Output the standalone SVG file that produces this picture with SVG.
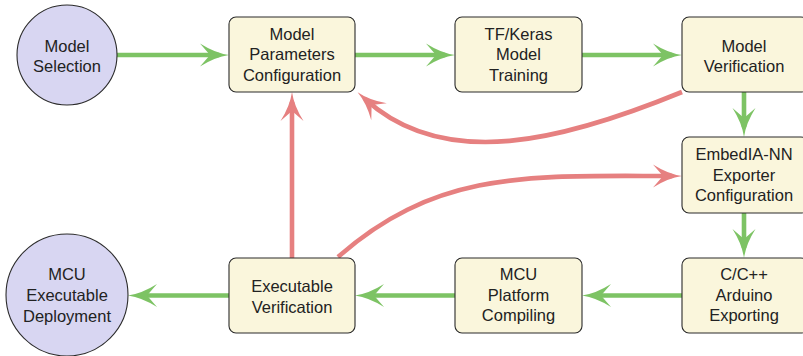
<svg xmlns="http://www.w3.org/2000/svg" width="803" height="356" viewBox="0 0 803 356">
  <style>
    .box { fill: #faf6dc; stroke: #2b2b2b; stroke-width: 1.1; }
    .term { fill: #d8d6f2; stroke: #2b2b2b; stroke-width: 1.1; }
    text { font-family: "Liberation Sans", Arial, sans-serif; font-size: 16.5px; fill: #222; text-anchor: middle; }
    .flow { fill: none; stroke: #7dc364; stroke-width: 4.6; }
    .back { fill: none; stroke: #e68080; stroke-width: 4.6; }
  </style>
  <defs>
    <marker id="arrGreen" viewBox="-30 -12 31 24" refX="-10" refY="0" markerWidth="31" markerHeight="24" markerUnits="userSpaceOnUse" orient="auto">
      <path d="M0,0 Q-14,-2 -29,-11.5 L-19,0 L-29,11.5 Q-14,2 0,0 Z" fill="#7dc364"/>
    </marker>
    <marker id="arrRed" viewBox="-30 -12 31 24" refX="-10" refY="0" markerWidth="31" markerHeight="24" markerUnits="userSpaceOnUse" orient="auto">
      <path d="M0,0 Q-14,-2 -29,-11.5 L-19,0 L-29,11.5 Q-14,2 0,0 Z" fill="#e68080"/>
    </marker>
  </defs>

  <g id="connectors">
    <path class="flow" d="M117,55 L219,55" marker-end="url(#arrGreen)"/>
    <path class="flow" d="M355,55 L445,55" marker-end="url(#arrGreen)"/>
    <path class="flow" d="M582,55 L672,55" marker-end="url(#arrGreen)"/>
    <path class="flow" d="M744,92 L744,127" marker-end="url(#arrGreen)"/>
    <path class="flow" d="M744,213 L744,248" marker-end="url(#arrGreen)"/>
    <path class="flow" d="M682,295.5 L592,295.5" marker-end="url(#arrGreen)"/>
    <path class="flow" d="M455,295.5 L365,295.5" marker-end="url(#arrGreen)"/>
    <path class="flow" d="M229,295.5 L138,295.5" marker-end="url(#arrGreen)"/>
    <path class="back" d="M292,258 L292,102" marker-end="url(#arrRed)"/>
    <path class="back" d="M682,92 C565,140 445,172 365,99" marker-end="url(#arrRed)"/>
    <path class="back" d="M338,257 C438,169 532,176 672,176" marker-end="url(#arrRed)"/>
  </g>

  <g id="model-selection">
    <circle class="term" cx="67" cy="55" r="50"/>
    <text x="67" y="51.5">Model</text>
    <text x="67" y="72">Selection</text>
  </g>

  <g id="model-parameters">
    <rect class="box" x="229" y="17" width="126" height="75" rx="7"/>
    <text x="292" y="39.5">Model</text>
    <text x="292" y="60">Parameters</text>
    <text x="292" y="80.5">Configuration</text>
  </g>

  <g id="model-training">
    <rect class="box" x="455" y="17" width="127" height="75" rx="7"/>
    <text x="518.5" y="39.5">TF/Keras</text>
    <text x="518.5" y="60">Model</text>
    <text x="518.5" y="80.5">Training</text>
  </g>

  <g id="model-verification">
    <rect class="box" x="682" y="17" width="126" height="75" rx="7"/>
    <text x="744" y="51.5">Model</text>
    <text x="744" y="72">Verification</text>
  </g>

  <g id="exporter-configuration">
    <rect class="box" x="682" y="137" width="126" height="76" rx="7"/>
    <text x="744" y="160">EmbedIA-NN</text>
    <text x="744" y="180.5">Exporter</text>
    <text x="744" y="201">Configuration</text>
  </g>

  <g id="arduino-exporting">
    <rect class="box" x="682" y="258" width="126" height="75" rx="7"/>
    <text x="744" y="280">C/C++</text>
    <text x="744" y="300.5">Arduino</text>
    <text x="744" y="321">Exporting</text>
  </g>

  <g id="platform-compiling">
    <rect class="box" x="455" y="258" width="127" height="75" rx="7"/>
    <text x="518.5" y="280">MCU</text>
    <text x="518.5" y="300.5">Platform</text>
    <text x="518.5" y="321">Compiling</text>
  </g>

  <g id="executable-verification">
    <rect class="box" x="229" y="258" width="126" height="75" rx="7"/>
    <text x="292" y="292">Executable</text>
    <text x="292" y="312.5">Verification</text>
  </g>

  <g id="executable-deployment">
    <circle class="term" cx="67" cy="295" r="61"/>
    <text x="67" y="279.5">MCU</text>
    <text x="67" y="300.5">Executable</text>
    <text x="67" y="321.5">Deployment</text>
  </g>
</svg>
